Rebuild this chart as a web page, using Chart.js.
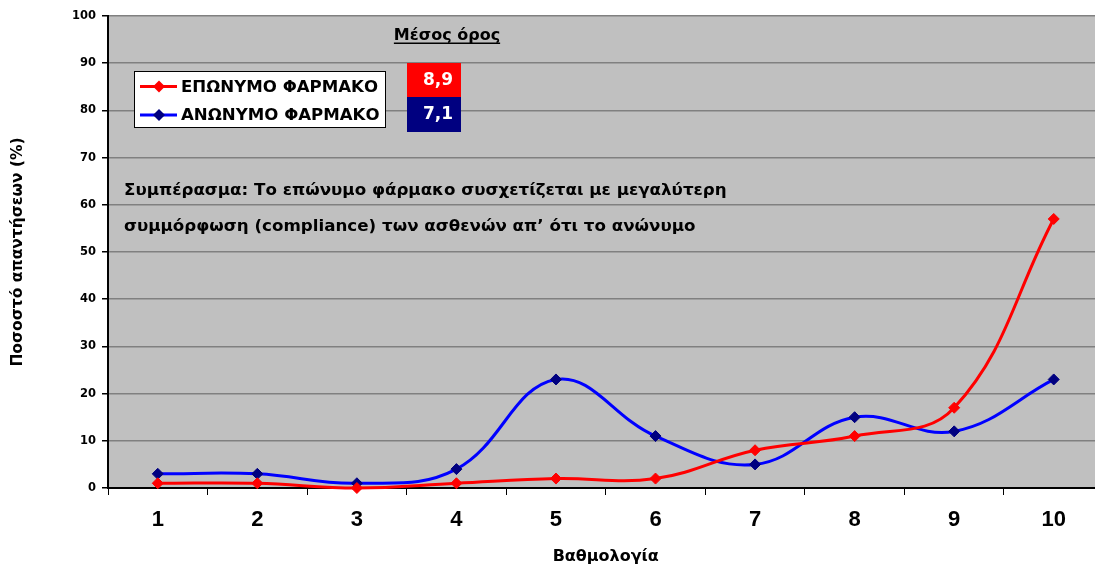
<!DOCTYPE html>
<html lang="el">
<head>
    <meta charset="UTF-8">
    <title>Βαθμολογία</title>
    <script src="https://cdn.jsdelivr.net/npm/chart.js"></script>
    <style>
        html, body { margin: 0; padding: 0; background: #fff; overflow: hidden; }
        #wrap { width: 1110px; height: 567px; }
    </style>
</head>
<body>
    <div id="wrap"><canvas id="myChart"></canvas></div>
    <script>
        // categories (score 1-10)
        const labels = ['1', '2', '3', '4', '5', '6', '7', '8', '9', '10'];
        const seriesNames = ['ΕΠΩΝΥΜΟ ΦΑΡΜΑΚΟ', 'ΑΝΩΝΥΜΟ ΦΑΡΜΑΚΟ'];
        const branded = [1, 1, 0, 1, 2, 2, 8, 11, 17, 57];
        const generic = [3, 3, 1, 4, 23, 11, 5, 15, 12, 23];
        const means = ['8,9', '7,1'];
        const yTicks = [0, 10, 20, 30, 40, 50, 60, 70, 80, 90, 100];
        const note = [
            'Συμπέρασμα: Το επώνυμο φάρμακο συσχετίζεται με μεγαλύτερη',
            'συμμόρφωση (compliance) των ασθενών απ’ ότι το ανώνυμο'
        ];

        const WIDE = '"DejaVu Sans", Verdana, sans-serif';
        const ARIAL = '"Liberation Sans", Arial, sans-serif';

        // grey plot area + legend box + mean box + note
        const extras = {
            id: 'extras',
            beforeDraw(chart) {
                const { ctx, chartArea: a } = chart;
                ctx.save();
                ctx.fillStyle = '#C0C0C0';
                ctx.fillRect(a.left, a.top, a.right - a.left, a.bottom - a.top);
                ctx.restore();
            },
            afterDatasetsDraw(chart) {
                const ctx = chart.ctx;
                ctx.save();

                // legend
                ctx.fillStyle = '#fff';
                ctx.fillRect(134, 71, 252, 56);
                ctx.strokeStyle = '#000';
                ctx.lineWidth = 1;
                ctx.strokeRect(134.5, 71.5, 251, 56);
                chart.data.datasets.forEach((ds, i) => {
                    const y = 86.5 + i * 28.5;
                    ctx.strokeStyle = ds.borderColor;
                    ctx.lineWidth = 3;
                    ctx.beginPath();
                    ctx.moveTo(140, y);
                    ctx.lineTo(177, y);
                    ctx.stroke();
                    ctx.fillStyle = ds.pointBackgroundColor;
                    ctx.beginPath();
                    ctx.moveTo(159, y - 6);
                    ctx.lineTo(165, y);
                    ctx.lineTo(159, y + 6);
                    ctx.lineTo(153, y);
                    ctx.closePath();
                    ctx.fill();
                    ctx.fillStyle = '#000';
                    ctx.font = 'bold 16.6px ' + WIDE;
                    ctx.textBaseline = 'middle';
                    ctx.textAlign = 'left';
                    ctx.fillText(ds.label, 181, y + 1);
                });

                // mean values
                ctx.fillStyle = '#000';
                ctx.font = 'bold 16px ' + WIDE;
                ctx.textAlign = 'center';
                ctx.textBaseline = 'alphabetic';
                ctx.fillText('Μέσος όρος', 447, 40);
                const w = ctx.measureText('Μέσος όρος').width;
                ctx.fillRect(447 - w / 2, 42.5, w, 1.5);

                const boxCols = ['#FF0000', '#000080'];
                means.forEach((m, i) => {
                    const y0 = 63 + i * 34;
                    ctx.fillStyle = boxCols[i];
                    ctx.fillRect(407, y0, 54, 35);
                    ctx.fillStyle = '#fff';
                    ctx.font = 'bold 17px ' + WIDE;
                    ctx.textAlign = 'center';
                    ctx.textBaseline = 'middle';
                    ctx.fillText(m, 438, y0 + 17.5);
                });

                // conclusion text
                ctx.fillStyle = '#000';
                ctx.font = 'bold 16.7px ' + WIDE;
                ctx.textAlign = 'left';
                ctx.textBaseline = 'alphabetic';
                note.forEach((t, i) => ctx.fillText(t, 124, 195 + i * 36));

                ctx.restore();
            }
        };

        const data = {
            labels: labels,
            datasets: [
                {
                    label: seriesNames[0],
                    data: branded,
                    borderColor: '#FF0000',
                    backgroundColor: '#FF0000',
                    pointBackgroundColor: '#FF0000',
                    pointBorderColor: '#FF0000',
                },
                {
                    label: seriesNames[1],
                    data: generic,
                    borderColor: '#0000FF',
                    backgroundColor: '#000080',
                    pointBackgroundColor: '#000080',
                    pointBorderColor: '#000080',
                }
            ]
        };

        const config = {
            type: 'line',
            data: data,
            plugins: [extras],
            options: {
                responsive: true,
                maintainAspectRatio: false,
                animation: false,
                layout: { padding: { top: 16, right: 5, left: 9, bottom: 0 } },
                elements: {
                    line: { borderWidth: 3, tension: 0.4 },
                    point: { pointStyle: 'rectRot', radius: 5.5, hoverRadius: 5.5, borderWidth: 1 }
                },
                datasets: { line: { clip: false } },
                plugins: {
                    legend: { display: false },
                    tooltip: { enabled: false }
                },
                scales: {
                    x: {
                        offset: true,
                        afterFit(scale) { scale.height = 79; },
                        grid: {
                            offset: true,
                            drawOnChartArea: false,
                            drawTicks: true,
                            tickLength: 7,
                            color: '#000'
                        },
                        border: { color: '#000', width: 2 },
                        ticks: {
                            color: '#000',
                            font: { family: ARIAL, size: 22, weight: 'bold' },
                            padding: 12
                        },
                        title: {
                            display: true,
                            text: 'Βαθμολογία',
                            color: '#000',
                            font: { family: WIDE, size: 16, weight: 'bold' },
                            padding: { top: 0, bottom: 1 }
                        }
                    },
                    y: {
                        min: 0,
                        max: 100,
                        afterBuildTicks(scale) {
                            scale.ticks = yTicks.map(v => ({ value: v }));
                        },
                        afterFit(scale) { scale.width = 99; },
                        grid: {
                            color: '#808080',
                            lineWidth: 1.5,
                            tickColor: '#000',
                            tickLength: 6
                        },
                        border: { color: '#000', width: 2 },
                        ticks: {
                            color: '#000',
                            font: { family: WIDE, size: 11.5, weight: 'bold' },
                            padding: 6
                        },
                        title: {
                            display: true,
                            text: 'Ποσοστό απαντήσεων (%)',
                            color: '#000',
                            font: { family: WIDE, size: 15.5, weight: 'bold' },
                            padding: { top: 0, bottom: 0 }
                        }
                    }
                }
            }
        };

        const myChart = new Chart(document.getElementById('myChart'), config);
    </script>
</body>
</html>
